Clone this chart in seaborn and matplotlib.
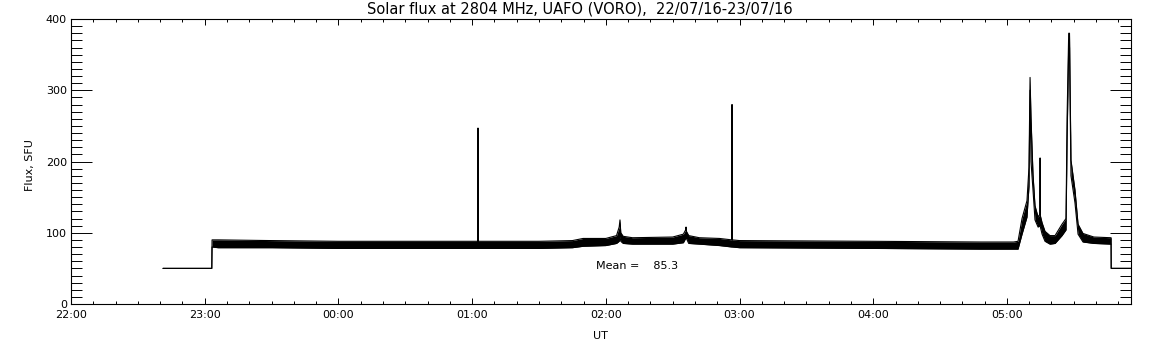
import numpy as np
import pandas as pd
import matplotlib
matplotlib.use("Agg")
import matplotlib.pyplot as plt
from matplotlib.ticker import MultipleLocator, FuncFormatter
import seaborn as sns

# hours after 22:00 UT, lower / upper edge of the noisy trace (SFU)
time_h = [0.688, 1.053, 1.055, 1.10, 1.50, 2.00, 3.000, 3.042, 3.044, 3.046,
          3.50, 3.75, 3.83, 4.00, 4.08, 4.100, 4.106, 4.112, 4.13, 4.20,
          4.50, 4.58, 4.597, 4.600, 4.603, 4.62, 4.70, 4.85, 4.942, 4.944,
          4.946, 5.00, 6.00, 6.80, 7.05, 7.083, 7.113, 7.150, 7.165, 7.173,
          7.180, 7.195, 7.210, 7.233, 7.246, 7.248, 7.250, 7.263, 7.285, 7.322,
          7.360, 7.412, 7.442, 7.450, 7.462, 7.468, 7.479, 7.509, 7.532, 7.569,
          7.650, 7.779, 7.780, 7.928]
flux_lo = [50, 50, 80, 79, 79, 78, 78, 78, 78, 78,
           78, 79, 81, 82, 85, 88, 95, 88, 85, 84,
           84, 86, 92, 95, 92, 85, 84, 82, 80, 80,
           80, 79, 78, 77, 77, 77, 98, 122, 165, 300,
           200, 160, 118, 108, 110, 115, 108, 98, 88, 84,
           85, 96, 104, 230, 360, 360, 180, 142, 98, 87,
           85, 84, 50, 50]
flux_hi = [50, 50, 90, 90, 89, 88, 88, 88, 247, 88,
           88, 89, 92, 92, 96, 108, 118, 100, 95, 93,
           94, 98, 104, 108, 102, 96, 93, 92, 90, 280,
           90, 89, 88, 87, 87, 88, 120, 145, 192, 318,
           262, 182, 138, 122, 126, 205, 124, 114, 102, 96,
           96, 112, 120, 262, 380, 380, 202, 160, 112, 99,
           94, 93, 50, 50]

title = "Solar flux at 2804 MHz, UAFO (VORO),  22/07/16-23/07/16"
mean_flux = 85.3

sns.set_style("ticks")
plt.rcParams["font.family"] = ["DejaVu Sans"]
plt.rcParams["text.color"] = "black"
plt.rcParams["xtick.color"] = "black"
plt.rcParams["ytick.color"] = "black"

fig = plt.figure(figsize=(11.52, 3.45), dpi=100)
ax = fig.add_axes([71/1152, 1-304/345, (1131-71)/1152, (304-19)/345])

df = pd.DataFrame({"t": time_h, "lo": flux_lo, "hi": flux_hi})
ax.fill_between(df["t"], df["lo"], df["hi"], color="black", linewidth=0)
sns.lineplot(data=df, x="t", y="lo", color="black", linewidth=0.8, ax=ax)
sns.lineplot(data=df, x="t", y="hi", color="black", linewidth=0.8, ax=ax)

ax.set_xlim(0, 7.928)
ax.set_ylim(0, 400)
ax.set_xlabel("")
ax.set_ylabel("")

ax.xaxis.set_major_locator(MultipleLocator(1))
ax.xaxis.set_minor_locator(MultipleLocator(1/6))
ax.xaxis.set_major_formatter(FuncFormatter(lambda h, _: f"{int(round(22 + h)) % 24:02d}:00"))
ax.yaxis.set_major_locator(MultipleLocator(100))
ax.yaxis.set_minor_locator(MultipleLocator(10))

ax.tick_params(axis="x", which="major", direction="in", length=4.1, width=0.7,
               top=True, bottom=True, labelsize=8, pad=4)
ax.tick_params(axis="x", which="minor", direction="in", length=2.0, width=0.7,
               top=True, bottom=True)
ax.tick_params(axis="y", which="major", direction="in", length=15.3, width=0.7,
               left=True, right=True, labelsize=8, pad=3)
ax.tick_params(axis="y", which="minor", direction="in", length=7.6, width=0.7,
               left=True, right=True)
for s in ax.spines.values():
    s.set_linewidth(0.8)
    s.set_color("black")

ax.text(3.93, 53.5, f"Mean =    {mean_flux:.1f}", fontsize=8, va="center", ha="left")

fig.text(580/1152, 1-9/345, title, ha="center", va="center", fontsize=10.5)
fig.text(600/1152, 1-336/345, "UT", ha="center", va="center", fontsize=8)
fig.text(30/1152, 1-165/345, "Flux, SFU", ha="center", va="center", rotation=90, fontsize=8)

fig.savefig("out.png", dpi=100)
